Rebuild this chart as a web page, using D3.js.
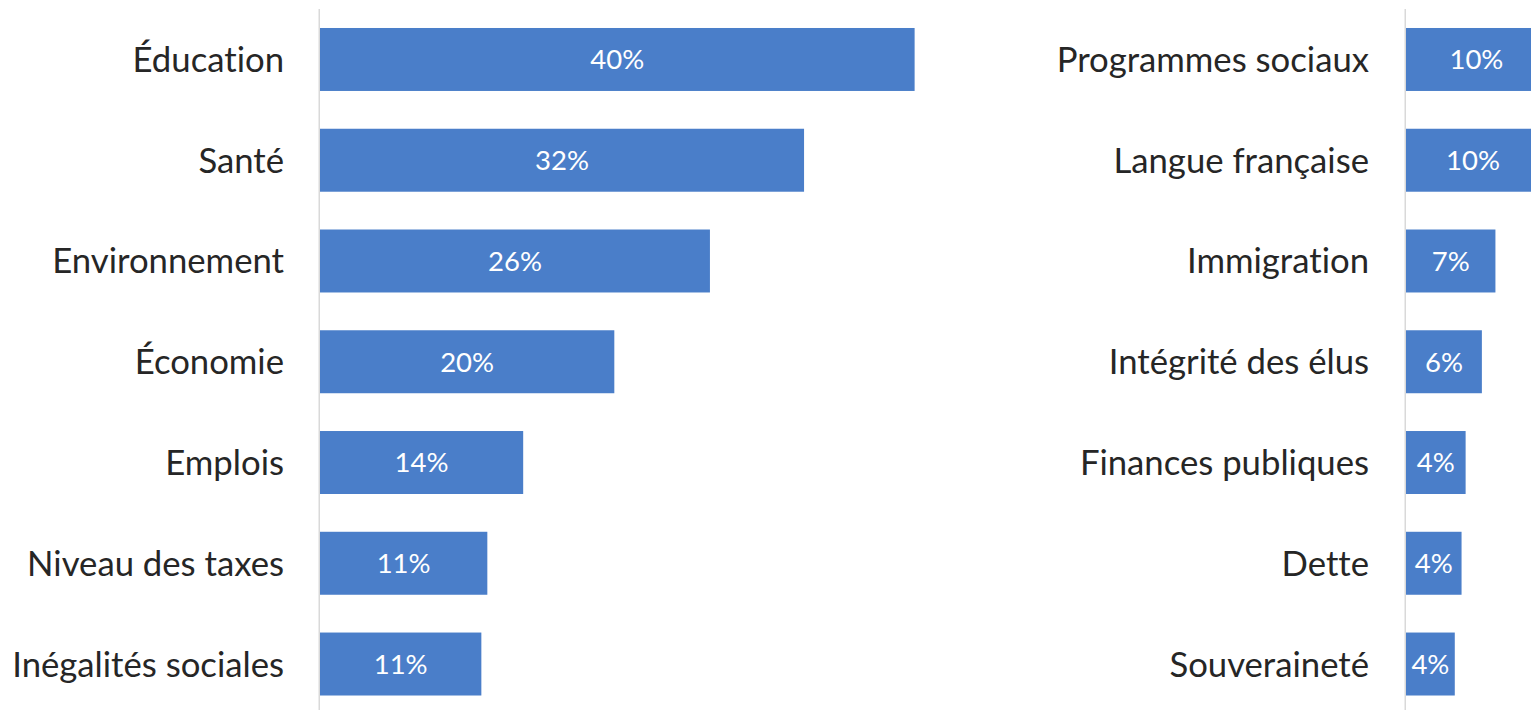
<!DOCTYPE html>
<html><head>
<meta charset="UTF-8">
<title>Enjeux - barres</title>
<script src="https://d3js.org/d3.v7.min.js"></script>
<style>
  body { margin: 0; background: #fff; }
  .cat { font-family: Lato, "Open Sans", sans-serif; font-size: 34.7px; fill: #262626; font-variant-ligatures: none; }
  .val { font-family: Lato, "Open Sans", sans-serif; font-size: 27.5px; fill: #fff; }
  .bar { fill: #4a7ec9; }
  .axis { stroke: #d9d9d9; stroke-width: 1.5px; }
</style>
</head>
<body>
<script>

// left panel
var leftCats = ["Éducation", "Santé", "Environnement", "Économie", "Emplois", "Niveau des taxes", "Inégalités sociales"];
var leftVals = [39.8, 32.4, 26.1, 19.7, 13.6, 11.2, 10.8];

// right panel
var rightCats = ["Programmes sociaux", "Langue française", "Immigration", "Intégrité des élus", "Finances publiques", "Dette", "Souveraineté"];
var rightVals = [10.4, 9.9, 6.6, 5.6, 4.4, 4.1, 3.6];

var width = 1531, height = 710;

var svg = d3.select("body").append("svg")
    .attr("width", width)
    .attr("height", height);

function panel(cats, vals, x0, pxPerPct, labelRight) {
  var data = cats.map(function(c, i) { return {cat: c, val: vals[i]}; });

  var x = d3.scaleLinear()
      .domain([0, 10])
      .range([x0, x0 + 10 * pxPerPct]);

  var y = d3.scaleBand()
      .domain(cats)
      .range([9.1, 714.4])
      .paddingInner(0.375)
      .paddingOuter(0.1875);

  var g = svg.append("g");

  g.selectAll("rect").data(data).enter()
    .append("rect")
    .attr("class", "bar")
    .attr("x", x(0))
    .attr("y", function(d) { return y(d.cat); })
    .attr("width", function(d) { return x(d.val) - x(0); })
    .attr("height", y.bandwidth());

  // vertical axis line
  g.append("line")
    .attr("class", "axis")
    .attr("x1", x(0) - 0.75).attr("x2", x(0) - 0.75)
    .attr("y1", 9).attr("y2", height);

  // category labels
  g.selectAll("text.cat").data(data).enter()
    .append("text")
    .attr("class", "cat")
    .attr("x", labelRight)
    .attr("y", function(d) { return y(d.cat) + y.bandwidth() / 2; })
    .attr("dy", "0.36em")
    .attr("text-anchor", "end")
    .text(function(d) { return d.cat; });

  // values inside bars
  g.selectAll("text.val").data(data).enter()
    .append("text")
    .attr("class", "val")
    .attr("x", function(d) { return (x(0) + x(d.val)) / 2; })
    .attr("y", function(d) { return y(d.cat) + y.bandwidth() / 2; })
    .attr("dy", "0.36em")
    .attr("text-anchor", "middle")
    .text(function(d) { return Math.round(d.val) + "%"; });
}

panel(leftCats, leftVals, 320, 14.94, 284);
panel(rightCats, rightVals, 1406, 13.55, 1369);

</script>
</body>
</html>
